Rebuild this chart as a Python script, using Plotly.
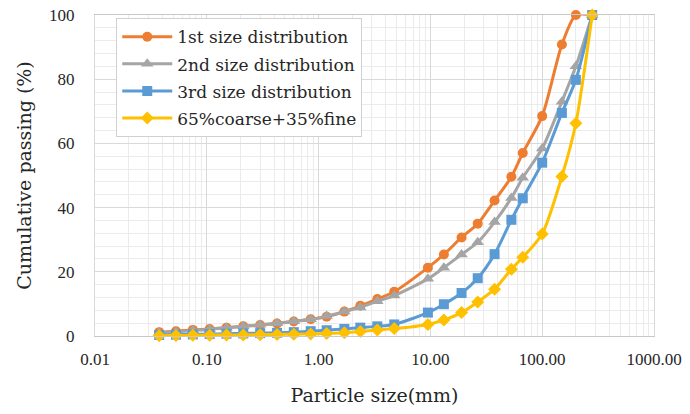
import plotly.graph_objects as go

sizes_mm = [0.0375, 0.053, 0.075, 0.106, 0.15, 0.212, 0.3, 0.425, 0.6, 0.85,
            1.18, 1.7, 2.36, 3.35, 4.75, 9.5, 13.2, 19, 26.5, 37.5, 53, 67,
            100, 150, 200, 280]

first_dist = [1.2, 1.5, 1.9, 2.2, 2.6, 3.0, 3.4, 3.9, 4.5, 5.2,
              6.0, 7.6, 9.4, 11.5, 13.8, 21.3, 25.4, 30.7, 35.0, 42.2, 49.6, 57.0,
              68.5, 90.8, 100, 100]
second_dist = [1.0, 1.3, 1.7, 2.1, 2.6, 3.0, 3.5, 4.0, 4.6, 5.2,
               6.2, 7.6, 8.9, 10.8, 12.6, 17.8, 21.3, 25.4, 29.2, 35.5, 43.0, 49.3,
               58.4, 73.0, 84.0, 100]
third_dist = [0.3, 0.4, 0.5, 0.6, 0.7, 0.8, 0.9, 1.0, 1.2, 1.5,
              1.8, 2.2, 2.6, 3.0, 3.6, 7.3, 9.9, 13.4, 18.0, 25.5, 36.2, 42.9,
              54.0, 69.5, 79.8, 100]
mix_dist = [0.1, 0.15, 0.2, 0.25, 0.3, 0.35, 0.4, 0.5, 0.55, 0.65,
            0.8, 1.0, 1.4, 1.9, 2.3, 3.6, 5.0, 7.3, 10.6, 14.6, 20.8, 24.5,
            31.8, 49.7, 66.3, 100]

names = ["1st size distribution", "2nd size distribution",
         "3rd size distribution", "65%coarse+35%fine"]
colors = ["#ED7D31", "#A5A5A5", "#5B9BD5", "#FFC000"]
symbols = ["circle", "triangle-up", "square", "diamond"]
marker_sizes = [10, 11, 10, 10]

x_tickvals = [0.01, 0.1, 1, 10, 100, 1000]
x_ticktext = ["0.01", "0.10", "1.00", "10.00", "100.00", "1000.00"]
y_tickvals = [0, 20, 40, 60, 80, 100]

fig = go.Figure()
for i, (ys, nm, c, s, ms) in enumerate(zip([first_dist, second_dist, third_dist, mix_dist],
                                            names, colors, symbols, marker_sizes)):
    fig.add_trace(go.Scatter(
        x=sizes_mm, y=ys, name=nm, mode="lines+markers",
        legendgroup="g%d" % i,
        line=dict(color=c, width=3, shape="spline", smoothing=0.7),
        marker=dict(color=c, symbol=s, size=ms),
        cliponaxis=False,
    ))

tick_font = dict(family="Liberation Serif", size=17, color="#262626")
title_font = dict(family="DejaVu Serif", size=19, color="#262626")

fig.update_layout(
    width=690, height=414,
    margin=dict(l=95, r=36, t=15, b=78),
    paper_bgcolor="white", plot_bgcolor="white",
    showlegend=True,
    legend=dict(
        x=0.038, y=0.99, xanchor="left", yanchor="top",
        bgcolor="white", bordercolor="#d0d0d0", borderwidth=1,
        font=dict(family="DejaVu Serif", size=17, color="#262626"),
        tracegroupgap=2, itemwidth=50,
    ),
    xaxis=dict(
        type="log", range=[-2, 3], automargin=False,
        tickvals=x_tickvals, ticktext=x_ticktext,
        tickfont=tick_font,
        ticks="outside", ticklen=8, tickcolor="rgba(0,0,0,0)",
        showgrid=True, gridcolor="#d9d9d9", gridwidth=1,
        minor=dict(showgrid=True, gridcolor="#ebebeb", dtick="D1", ticks=""),
        showline=True, linecolor="#c8c8c8", linewidth=1, mirror=True,
        zeroline=False,
        title=dict(text="Particle size(mm)", font=title_font, standoff=20),
    ),
    yaxis=dict(
        range=[0, 100], tickvals=y_tickvals, automargin=False,
        tickfont=tick_font,
        ticks="outside", ticklen=16, tickcolor="rgba(0,0,0,0)",
        showgrid=True, gridcolor="#d9d9d9", gridwidth=1,
        minor=dict(showgrid=True, gridcolor="#ebebeb", dtick=4, ticks=""),
        showline=True, linecolor="#d9d9d9", linewidth=1, mirror=True,
        zeroline=False,
        title=dict(text="Cumulative passing (%)", font=title_font, standoff=12),
    ),
)

fig.write_html("out.html")
